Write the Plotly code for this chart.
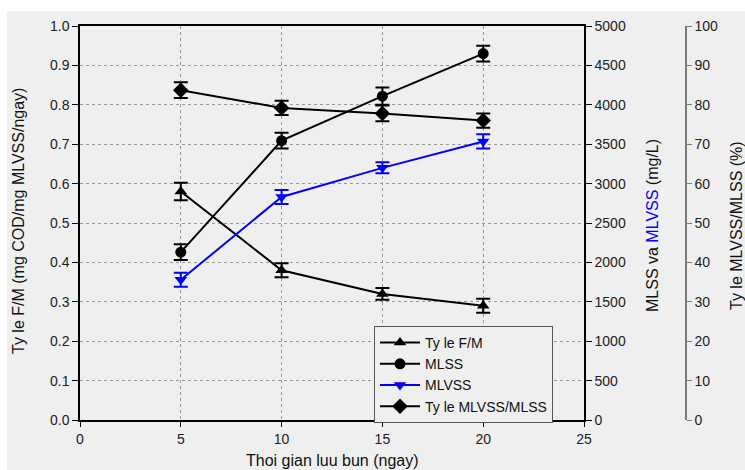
import plotly.graph_objects as go

# ---- data ----
srt_days = [5, 10, 15, 20]
fm_ratio = [0.58, 0.38, 0.32, 0.29]
fm_err = [0.022, 0.018, 0.015, 0.018]
mlss = [2130, 3545, 4110, 4650]
mlss_err = [100, 100, 110, 100]
mlvss = [1780, 2830, 3200, 3535]
mlvss_err = [90, 90, 70, 90]
vss_ratio = [83.7, 79.2, 77.8, 76.0]
vss_ratio_err = [2.0, 1.8, 2.0, 1.8]

x_ticks = [0, 5, 10, 15, 20, 25]

# ---- geometry helpers (plot area px) ----
W, H = 745, 470
L, R_AX3, T, B = 80, 686, 26, 420
X_RIGHT = 584
def px(x):
    return (x - L) / (R_AX3 - L)
def py(y):
    return (B - y) / (B - T)

FONT = "Liberation Sans, Arial, sans-serif"
BG = "#efefef"

fig = go.Figure()

fig.add_trace(go.Scatter(
    x=srt_days, y=fm_ratio, name="Ty le F/M", mode="lines+markers",
    line=dict(color="black", width=2),
    marker=dict(symbol="triangle-up", size=11, color="black"),
    error_y=dict(type="data", array=fm_err, color="black", thickness=2, width=7),
    yaxis="y"))
fig.add_trace(go.Scatter(
    x=srt_days, y=mlss, name="MLSS", mode="lines+markers",
    line=dict(color="black", width=2),
    marker=dict(symbol="circle", size=11, color="black"),
    error_y=dict(type="data", array=mlss_err, color="black", thickness=2, width=7),
    yaxis="y2"))
fig.add_trace(go.Scatter(
    x=srt_days, y=mlvss, name="MLVSS", mode="lines+markers",
    line=dict(color="#0000ff", width=2),
    marker=dict(symbol="triangle-down", size=11, color="#0000ff"),
    error_y=dict(type="data", array=mlvss_err, color="#0000ff", thickness=2, width=7),
    yaxis="y2"))
fig.add_trace(go.Scatter(
    x=srt_days, y=vss_ratio, name="Ty le MLVSS/MLSS", mode="lines+markers",
    line=dict(color="black", width=2),
    marker=dict(symbol="diamond", size=12, color="black"),
    error_y=dict(type="data", array=vss_ratio_err, color="black", thickness=2, width=7),
    yaxis="y3"))

tickfont = dict(family=FONT, size=14, color="#222")

fig.update_layout(
    width=W, height=H,
    margin=dict(l=L, r=W - R_AX3, t=T, b=H - B),
    paper_bgcolor=BG, plot_bgcolor=BG,
    font=dict(family=FONT, size=14, color="#222"),
    showlegend=True,
    legend=dict(x=px(374), y=py(326), xanchor="left", yanchor="top",
                bgcolor=BG, bordercolor="#555", borderwidth=1,
                font=dict(family=FONT, size=14, color="#111"),
                tracegroupgap=0, itemwidth=40,
                entrywidth=150, entrywidthmode="pixels"),
    xaxis=dict(domain=[0, px(X_RIGHT)], range=[0, 25], tickvals=x_ticks,
               showline=True, linecolor="black", linewidth=1.5, mirror=True,
               ticks="outside", ticklen=5, tickcolor="black",
               showgrid=True, gridcolor="#999", griddash="dot", gridwidth=1,
               zeroline=False, tickfont=tickfont),
    yaxis=dict(range=[0, 1], dtick=0.1, tickformat=".1f",
               showline=True, linecolor="black", linewidth=1.5,
               ticks="outside", ticklen=6, tickcolor="black",
               showgrid=True, gridcolor="#999", griddash="dot", gridwidth=1,
               zeroline=False, tickfont=tickfont),
    yaxis2=dict(range=[0, 5000], dtick=500, overlaying="y", side="right", anchor="x",
                showline=True, linecolor="black", linewidth=1.5,
                ticks="outside", ticklen=6, tickcolor="black",
                showgrid=False, zeroline=False, tickfont=tickfont),
    yaxis3=dict(range=[0, 100], dtick=10, overlaying="y", side="right",
                anchor="free", position=1.0,
                showline=True, linecolor="#777", linewidth=1.5,
                ticks="outside", ticklen=5, tickcolor="#777",
                showgrid=False, zeroline=False, tickfont=tickfont),
)

title_font = dict(family=FONT, size=16, color="#111")
def title(text, x, y, angle=0):
    fig.add_annotation(text=text, textangle=angle, x=px(x), y=py(y),
                       xref="paper", yref="paper", xanchor="center", yanchor="middle",
                       showarrow=False, font=title_font)

title("Ty le F/M (mg COD/mg MLVSS/ngay)", 18, 221, -90)
title("MLSS va <span style='color:#0000ff'>MLVSS</span> (mg/L)", 652, 226, -90)
title("Ty le MLVSS/MLSS (%)", 736, 226, -90)
title("Thoi gian luu bun (ngay)", 332, 461)

# white outer border (top and left strips)
fig.add_shape(type="rect", xref="paper", yref="paper",
              x0=px(0), x1=px(W), y0=py(11), y1=py(0),
              fillcolor="white", line=dict(width=0), layer="above")
fig.add_shape(type="rect", xref="paper", yref="paper",
              x0=px(0), x1=px(7), y0=py(H), y1=py(0),
              fillcolor="white", line=dict(width=0), layer="above")

fig.write_html("out.html")
